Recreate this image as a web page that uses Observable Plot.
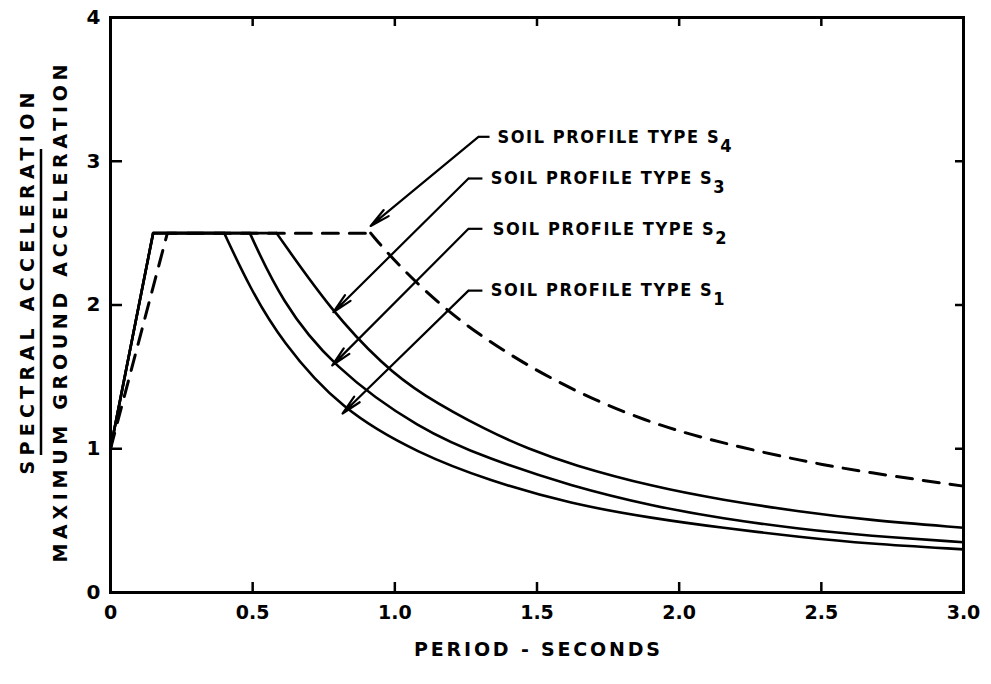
<!DOCTYPE html>
<html><head><meta charset="utf-8">
<script src="https://cdn.jsdelivr.net/npm/d3@7"></script>
<script src="https://cdn.jsdelivr.net/npm/@observablehq/plot@0.6"></script>
<style>body{margin:0;background:#fff}#chart svg{display:block}</style>
</head><body><div id="chart"></div>
<script>
// ---- data ----
const periodS1 = [0, 0.15, 0.40, 0.49, 0.60, 0.81, 1.09, 1.33, 1.62, 1.91, 2.15, 2.43, 2.66, 3.0];
const ratioS1  = [1.0, 2.5, 2.5, 2.12, 1.75, 1.27, 0.96, 0.78, 0.615, 0.515, 0.45, 0.385, 0.34, 0.30];
const periodS2 = [0, 0.15, 0.49, 0.60, 0.78, 1.09, 1.33, 1.62, 1.91, 2.15, 2.43, 2.66, 3.0];
const ratioS2  = [1.0, 2.5, 2.5, 2.03, 1.57, 1.13, 0.93, 0.74, 0.60, 0.515, 0.44, 0.395, 0.35];
const periodS3 = [0, 0.15, 0.584, 0.78, 0.96, 1.09, 1.33, 1.47, 1.62, 1.91, 2.15, 2.43, 2.66, 3.0];
const ratioS3  = [1.0, 2.5, 2.5, 1.95, 1.58, 1.38, 1.12, 1.0, 0.89, 0.735, 0.645, 0.56, 0.505, 0.45];
const periodS4 = [0, 0.2, 0.915, 1.0, 1.22, 1.56, 1.89, 2.15, 2.43, 2.66, 3.0];
const ratioS4  = [1.0, 2.5, 2.5, 2.30, 1.88, 1.46, 1.18, 1.04, 0.915, 0.835, 0.74];

const xTicks = [0, 0.5, 1.0, 1.5, 2.0, 2.5, 3.0];
const xTickLabels = ["0", "0.5", "1.0", "1.5", "2.0", "2.5", "3.0"];
const yTicks = [0, 1, 2, 3, 4];
const yTickLabels = ["0", "1", "2", "3", "4"];

const labelStem = "SOIL PROFILE TYPE S";
const labelSubs = ["4", "3", "2", "1"];
const labelT = [1.361, 1.337, 1.344, 1.337];
const labelV = [3.17, 2.88, 2.53, 2.10];
const stubStartT = [1.294, 1.259, 1.259, 1.259];
const stubEndT = [1.333, 1.308, 1.308, 1.308];
const tipT = [0.915, 0.784, 0.78, 0.816];
const tipV = [2.55, 1.95, 1.58, 1.245];

// ---- build tables ----
const series = [
  {name: "S1", T: periodS1, V: ratioS1, dashed: false},
  {name: "S2", T: periodS2, V: ratioS2, dashed: false},
  {name: "S3", T: periodS3, V: ratioS3, dashed: false},
  {name: "S4", T: periodS4, V: ratioS4, dashed: true}
];
// first three points: rise + plateau (straight); from the plateau's end: decay (smooth)
const rise = [], decay = [];
for (const s of series) {
  s.T.forEach((t, i) => {
    const row = {t, v: s.V[i], name: s.name, dashed: s.dashed};
    if (i <= 2) rise.push(row);
    if (i >= 2) decay.push(row);
  });
}
const labels = labelSubs.map((sub, i) => ({
  sub, t: labelT[i], v: labelV[i], s0: stubStartT[i], s1: stubEndT[i], tt: tipT[i], tv: tipV[i]
}));

const font = "DejaVu Sans";
const chart = Plot.plot({
  width: 991, height: 684,
  marginLeft: 110, marginRight: 28, marginTop: 17, marginBottom: 92,
  style: {fontFamily: font, fontSize: "19px", fontWeight: "bold", color: "#000", background: "#fff"},
  x: {domain: [0, 3], axis: null},
  y: {domain: [0, 4], axis: null},
  marks: [
    // inward ticks
    Plot.axisX({anchor: "bottom", ticks: xTicks.slice(1, -1), tickSize: -10, tickFormat: () => "", label: null, strokeWidth: 2.5}),
    Plot.axisX({anchor: "top", ticks: xTicks.slice(1, -1), tickSize: -8, tickFormat: () => "", label: null, strokeWidth: 2.5}),
    Plot.axisY({anchor: "left", ticks: yTicks.slice(1, -1), tickSize: -12, tickFormat: () => "", label: null, strokeWidth: 2.5}),
    Plot.axisY({anchor: "right", ticks: yTicks.slice(1, -1), tickSize: -9, tickFormat: () => "", label: null, strokeWidth: 2.5}),
    // tick labels
    Plot.axisX({anchor: "bottom", ticks: xTicks, tickSize: 0, tickPadding: 13, label: null,
      tickFormat: d => xTickLabels[xTicks.indexOf(d)], fontSize: 19}),
    Plot.axisY({anchor: "left", ticks: yTicks, tickSize: 0, tickPadding: 10, label: null,
      tickFormat: d => yTickLabels[yTicks.indexOf(d)], fontSize: 20}),
    // curves
    Plot.line(rise.filter(d => !d.dashed), {x: "t", y: "v", z: "name", stroke: "#000", strokeWidth: 2.6}),
    Plot.line(decay.filter(d => !d.dashed), {x: "t", y: "v", z: "name", stroke: "#000", strokeWidth: 2.6, curve: "basis"}),
    Plot.line(rise.filter(d => d.dashed), {x: "t", y: "v", stroke: "#000", strokeWidth: 3, strokeDasharray: "16,11"}),
    Plot.line(decay.filter(d => d.dashed), {x: "t", y: "v", stroke: "#000", strokeWidth: 3, strokeDasharray: "16,11", curve: "basis"}),
    // leaders
    Plot.link(labels, {x1: "s0", x2: "s1", y1: "v", y2: "v", stroke: "#000", strokeWidth: 2.2}),
    Plot.arrow(labels, {x1: "s0", y1: "v", x2: "tt", y2: "tv", stroke: "#000", strokeWidth: 2.2, headLength: 14, headAngle: 22}),
    Plot.text(labels, {x: "t", y: "v", text: () => labelStem, textAnchor: "start", className: "soil-labels",
      fontFamily: "DejaVu Sans Condensed", fontWeight: "bold", fontSize: 18}),
    // axis titles
    Plot.text(["SPECTRAL ACCELERATION"], {frameAnchor: "left", textAnchor: "middle", dx: -83, dy: -21.5, rotate: -90, className: "ytitle1", fontSize: 19}),
    Plot.text(["MAXIMUM GROUND ACCELERATION"], {frameAnchor: "left", textAnchor: "middle", dx: -50, dy: 8.5, rotate: -90, className: "ytitle2", fontSize: 19}),
    Plot.text(["PERIOD - SECONDS"], {frameAnchor: "bottom", dy: 63, className: "xtitle", fontSize: 19}),
    Plot.frame({stroke: "#000", strokeWidth: 3})
  ]
});

const svg = d3.select(chart);
svg.selectAll(".soil-labels text").each(function(_, i) {
  const el = d3.select(this);
  el.append("tspan").attr("dy", "9").text(labelSubs[i]);
  el.attr("textLength", 234).attr("lengthAdjust", "spacing");
});
svg.selectAll(".ytitle1 text").attr("textLength", 382).attr("lengthAdjust", "spacing");
svg.selectAll(".ytitle2 text").attr("textLength", 498).attr("lengthAdjust", "spacing");
svg.selectAll(".xtitle text").attr("textLength", 246).attr("lengthAdjust", "spacing");
// fraction bar between the two y-title lines
svg.append("line").attr("x1", 41).attr("x2", 41).attr("y1", 149).attr("y2", 455)
  .attr("stroke", "#000").attr("stroke-width", 2.5);

document.getElementById("chart").append(chart);
</script>
</body></html>
